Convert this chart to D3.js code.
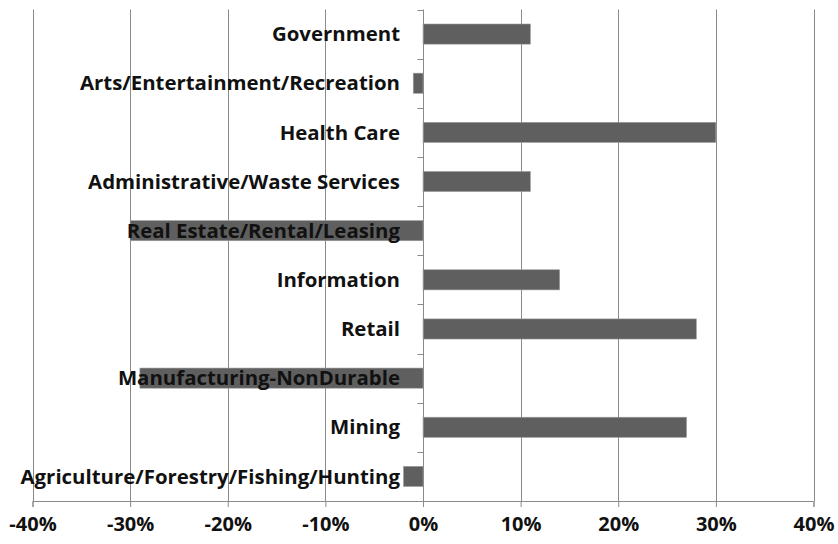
<!DOCTYPE html>
<html><head><meta charset="utf-8">
<script src="https://cdn.jsdelivr.net/npm/d3@7"></script>
<style>body{margin:0;background:#fff}svg{display:block}</style>
</head><body>
<script>
const categories = ["Government","Arts/Entertainment/Recreation","Health Care","Administrative/Waste Services","Real Estate/Rental/Leasing","Information","Retail","Manufacturing-NonDurable","Mining","Agriculture/Forestry/Fishing/Hunting"];
const values = [0.11,-0.01,0.30,0.11,-0.30,0.14,0.28,-0.29,0.27,-0.02];
const tickValues = [-0.4,-0.3,-0.2,-0.1,0,0.1,0.2,0.3,0.4];

const W=838,H=544;
const svg=d3.select("body").append("svg").attr("width",W).attr("height",H);
const x=d3.scaleLinear().domain([-0.4,0.4]).range([32.5,813.5]);
const y=d3.scaleBand().domain(categories).range([9.5,501]).paddingInner(0.59).paddingOuter(0.295);
const font="'Open Sans', 'DejaVu Sans', sans-serif";

// gridlines
svg.append("g").selectAll("line").data(tickValues.filter(d=>d!==0)).join("line")
  .attr("x1",d=>Math.round(x(d))+0.5).attr("x2",d=>Math.round(x(d))+0.5)
  .attr("y1",9.5).attr("y2",501).attr("stroke","#8a8a8a").attr("stroke-width",1);

// bars
svg.append("g").selectAll("rect").data(categories).join("rect")
  .attr("x",(d,i)=>x(Math.min(0,values[i])))
  .attr("width",(d,i)=>Math.abs(x(values[i])-x(0)))
  .attr("y",d=>y(d)).attr("height",y.bandwidth())
  .attr("fill","#5f5f5f").attr("stroke","#a0a0a0").attr("stroke-width",0.6);

// x axis
const xAxis=d3.axisBottom(x).tickValues(tickValues).tickFormat(d3.format(".0%")).tickSize(6).tickPadding(10);
const gx=svg.append("g").attr("transform","translate(0,501)").call(xAxis);
gx.select(".domain").attr("stroke","#8a8a8a");
gx.selectAll(".tick line").attr("stroke","#8a8a8a");
gx.selectAll("text").attr("font-family",font).attr("font-weight","bold").attr("font-size",20).attr("fill","#111")
  .text(d=>d3.format(".0%")(d).replace("−","-"));

// y axis at zero
const step=y.step();
const sep=d3.range(categories.length+1).map(i=>9.5+i*step);
const gy=svg.append("g");
gy.append("line").attr("x1",Math.round(x(0))+0.5).attr("x2",Math.round(x(0))+0.5).attr("y1",9.5).attr("y2",507).attr("stroke","#8a8a8a");
gy.selectAll("line.t").data(sep.slice(0,-1)).join("line").attr("class","t")
  .attr("x1",Math.round(x(0))+0.5-6).attr("x2",Math.round(x(0))+0.5)
  .attr("y1",d=>Math.round(d)+0.5).attr("y2",d=>Math.round(d)+0.5).attr("stroke","#8a8a8a");

// category labels
svg.append("g").selectAll("text").data(categories).join("text")
  .attr("x",400).attr("y",d=>y(d)+y.bandwidth()/2).attr("dy","0.35em")
  .attr("text-anchor","end").attr("font-family",font).attr("font-weight","bold").attr("font-size",20.4).attr("fill","#111")
  .text(d=>d);
</script>
</body></html>
